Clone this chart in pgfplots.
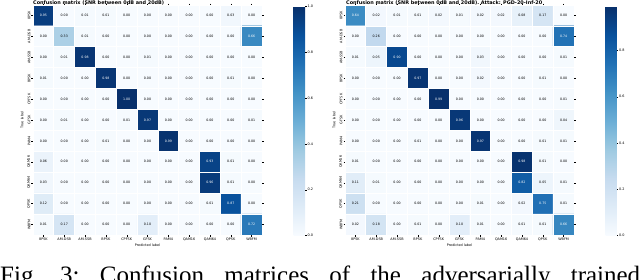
\documentclass[border=0pt]{standalone}
\usepackage{graphicx}
\usepackage{fontspec}
\setmainfont{DejaVu Sans}
\newfontfamily\capfont{Liberation Serif}
\usepackage{pgfplots}
\pgfplotsset{compat=1.18}
\usepackage{pgfplotstable}
\pgfplotsset{/pgf/number format/assume math mode=true}
\newcommand\ticf{\fontsize{3.4bp}{4bp}\selectfont}
\newcommand\celf{\fontsize{3.2bp}{4bp}\selectfont}

\pgfplotstableread[row sep=\\]{
x y c\\
0 0 0.95\\ 1 0 0.00\\ 2 0 0.01\\ 3 0 0.01\\ 4 0 0.00\\ 5 0 0.00\\ 6 0 0.00\\ 7 0 0.00\\ 8 0 0.00\\ 9 0 0.03\\ 10 0 0.00\\
0 1 0.00\\ 1 1 0.33\\ 2 1 0.01\\ 3 1 0.00\\ 4 1 0.00\\ 5 1 0.00\\ 6 1 0.00\\ 7 1 0.00\\ 8 1 0.00\\ 9 1 0.00\\ 10 1 0.66\\
0 2 0.00\\ 1 2 0.01\\ 2 2 0.98\\ 3 2 0.00\\ 4 2 0.00\\ 5 2 0.01\\ 6 2 0.00\\ 7 2 0.00\\ 8 2 0.00\\ 9 2 0.00\\ 10 2 0.00\\
0 3 0.01\\ 1 3 0.00\\ 2 3 0.00\\ 3 3 0.98\\ 4 3 0.00\\ 5 3 0.00\\ 6 3 0.00\\ 7 3 0.00\\ 8 3 0.00\\ 9 3 0.01\\ 10 3 0.00\\
0 4 0.00\\ 1 4 0.00\\ 2 4 0.00\\ 3 4 0.00\\ 4 4 1.00\\ 5 4 0.00\\ 6 4 0.00\\ 7 4 0.00\\ 8 4 0.00\\ 9 4 0.00\\ 10 4 0.00\\
0 5 0.00\\ 1 5 0.01\\ 2 5 0.00\\ 3 5 0.00\\ 4 5 0.01\\ 5 5 0.97\\ 6 5 0.00\\ 7 5 0.00\\ 8 5 0.00\\ 9 5 0.00\\ 10 5 0.01\\
0 6 0.00\\ 1 6 0.00\\ 2 6 0.00\\ 3 6 0.01\\ 4 6 0.00\\ 5 6 0.00\\ 6 6 0.99\\ 7 6 0.00\\ 8 6 0.00\\ 9 6 0.00\\ 10 6 0.00\\
0 7 0.06\\ 1 7 0.00\\ 2 7 0.00\\ 3 7 0.00\\ 4 7 0.00\\ 5 7 0.00\\ 6 7 0.00\\ 7 7 0.00\\ 8 7 0.93\\ 9 7 0.01\\ 10 7 0.00\\
0 8 0.03\\ 1 8 0.00\\ 2 8 0.00\\ 3 8 0.00\\ 4 8 0.00\\ 5 8 0.00\\ 6 8 0.00\\ 7 8 0.00\\ 8 8 0.96\\ 9 8 0.01\\ 10 8 0.00\\
0 9 0.12\\ 1 9 0.00\\ 2 9 0.00\\ 3 9 0.00\\ 4 9 0.00\\ 5 9 0.00\\ 6 9 0.00\\ 7 9 0.00\\ 8 9 0.01\\ 9 9 0.87\\ 10 9 0.00\\
0 10 0.01\\ 1 10 0.17\\ 2 10 0.00\\ 3 10 0.00\\ 4 10 0.00\\ 5 10 0.10\\ 6 10 0.00\\ 7 10 0.00\\ 8 10 0.00\\ 9 10 0.00\\ 10 10 0.72\\
}\leftdata

\pgfplotstableread[row sep=\\]{
x y c\\
0 0 0.64\\ 1 0 0.02\\ 2 0 0.01\\ 3 0 0.01\\ 4 0 0.02\\ 5 0 0.01\\ 6 0 0.02\\ 7 0 0.02\\ 8 0 0.08\\ 9 0 0.17\\ 10 0 0.00\\
0 1 0.00\\ 1 1 0.26\\ 2 1 0.00\\ 3 1 0.00\\ 4 1 0.00\\ 5 1 0.00\\ 6 1 0.00\\ 7 1 0.00\\ 8 1 0.00\\ 9 1 0.00\\ 10 1 0.74\\
0 2 0.01\\ 1 2 0.05\\ 2 2 0.90\\ 3 2 0.00\\ 4 2 0.00\\ 5 2 0.00\\ 6 2 0.03\\ 7 2 0.00\\ 8 2 0.00\\ 9 2 0.00\\ 10 2 0.01\\
0 3 0.00\\ 1 3 0.00\\ 2 3 0.00\\ 3 3 0.97\\ 4 3 0.00\\ 5 3 0.00\\ 6 3 0.02\\ 7 3 0.00\\ 8 3 0.00\\ 9 3 0.01\\ 10 3 0.00\\
0 4 0.00\\ 1 4 0.00\\ 2 4 0.00\\ 3 4 0.00\\ 4 4 0.99\\ 5 4 0.00\\ 6 4 0.00\\ 7 4 0.00\\ 8 4 0.00\\ 9 4 0.00\\ 10 4 0.01\\
0 5 0.00\\ 1 5 0.00\\ 2 5 0.00\\ 3 5 0.00\\ 4 5 0.00\\ 5 5 0.96\\ 6 5 0.00\\ 7 5 0.00\\ 8 5 0.00\\ 9 5 0.00\\ 10 5 0.04\\
0 6 0.00\\ 1 6 0.00\\ 2 6 0.00\\ 3 6 0.01\\ 4 6 0.00\\ 5 6 0.00\\ 6 6 0.97\\ 7 6 0.00\\ 8 6 0.00\\ 9 6 0.01\\ 10 6 0.01\\
0 7 0.01\\ 1 7 0.00\\ 2 7 0.00\\ 3 7 0.00\\ 4 7 0.00\\ 5 7 0.00\\ 6 7 0.00\\ 7 7 0.00\\ 8 7 0.98\\ 9 7 0.01\\ 10 7 0.00\\
0 8 0.11\\ 1 8 0.01\\ 2 8 0.00\\ 3 8 0.00\\ 4 8 0.00\\ 5 8 0.00\\ 6 8 0.00\\ 7 8 0.00\\ 8 8 0.82\\ 9 8 0.05\\ 10 8 0.01\\
0 9 0.21\\ 1 9 0.00\\ 2 9 0.00\\ 3 9 0.00\\ 4 9 0.00\\ 5 9 0.00\\ 6 9 0.01\\ 7 9 0.00\\ 8 9 0.02\\ 9 9 0.75\\ 10 9 0.01\\
0 10 0.02\\ 1 10 0.18\\ 2 10 0.00\\ 3 10 0.01\\ 4 10 0.00\\ 5 10 0.10\\ 6 10 0.01\\ 7 10 0.00\\ 8 10 0.01\\ 9 10 0.01\\ 10 10 0.66\\
}\rightdata

\pgfplotsset{
  colormap={sbblues}{rgb255=(247,251,255) rgb255=(222,235,247) rgb255=(198,219,239) rgb255=(158,202,225) rgb255=(107,174,214) rgb255=(66,146,198) rgb255=(33,113,181) rgb255=(8,81,156) rgb255=(8,48,107)},
  cmaxis/.style={
    anchor=south west, scale only axis, width=229bp, height=230bp,
    xmin=-0.5, xmax=10.5, ymin=-0.5, ymax=10.5, y dir=reverse,
    enlargelimits=false, axis on top,
    axis line style={draw=none},
    xtick={0,...,10}, ytick={0,...,10},
    xticklabels={8PSK,AM-DSB,AM-SSB,BPSK,CPFSK,GFSK,PAM4,QAM16,QAM64,QPSK,WBFM},
    yticklabels={8PSK,AM-DSB,AM-SSB,BPSK,CPFSK,GFSK,PAM4,QAM16,QAM64,QPSK,WBFM},
    tick align=outside,
    major tick length=1.5bp, tick style={black, line width=0.3bp},
    minor xtick={-0.5,0.5,...,10.5}, minor ytick={-0.5,0.5,...,10.5},
    minor tick length=0pt, xminorgrids=true, yminorgrids=true,
    minor grid style={white, line width=0.7bp},
    xticklabel style={font=\ticf, inner sep=0pt, anchor=north, yshift=-1bp},
    yticklabel style={font=\ticf, inner sep=0pt, anchor=south, xshift=-1bp, rotate=90},
    xlabel={Predicted label}, ylabel={True label},
    every axis x label/.style={at={(axis description cs:0.5,0)}, anchor=center, yshift=-10bp, font=\ticf},
    every axis y label/.style={at={(axis description cs:0,0.5)}, anchor=center, xshift=-11bp, rotate=90, font=\ticf},
    colormap name=sbblues, point meta min=0,
    colorbar,
    colorbar style={at={(parent axis.north east)}, anchor=north west, xshift=23bp, yshift=-1.5bp,
      scale only axis, width=11.5bp, height=229bp, axis line style={draw=none},
      ytick pos=right, tick align=outside, major tick length=1.5bp,
      tick style={black, line width=0.3bp},
      yticklabel style={font=\ticf, inner sep=0pt, xshift=1bp,
        /pgf/number format/.cd, fixed, fixed zerofill, precision=1}},
  },
  cmtext/.style={only marks, mark=none, point meta=explicit,
    nodes near coords={\pgfmathprintnumber[fixed,fixed zerofill,precision=2]{\pgfplotspointmeta}},
    nodes near coords align=center,
    every node near coord/.append style={font=\celf, inner sep=0pt, anchor=center, text=#1}},
}

\begin{document}
\begin{tikzpicture}
\useasboundingbox (0,0) rectangle (640bp,280bp);
\clip (0,0) rectangle (640bp,280bp);

\begin{axis}[cmaxis, at={(33bp,45bp)}, point meta max=1,
  colorbar style={ytick={0,0.2,0.4,0.6,0.8,1.0}}]
  \addplot[matrix plot*, mesh/cols=11, mesh/rows=11, point meta=explicit]
    table[x=x, y=y, meta=c] {\leftdata};
  \addplot[cmtext=black, restrict expr to domain={\thisrow{c}}{-1:0.45}]
    table[x=x, y=y, meta=c] {\leftdata};
  \addplot[cmtext=white, restrict expr to domain={\thisrow{c}}{0.45:2}]
    table[x=x, y=y, meta=c] {\leftdata};
\end{axis}

\begin{axis}[cmaxis, at={(345bp,45bp)}, point meta max=0.99,
  colorbar style={width=11bp, ytick={0,0.2,0.4,0.6,0.8}}]
  \addplot[matrix plot*, mesh/cols=11, mesh/rows=11, point meta=explicit]
    table[x=x, y=y, meta=c] {\rightdata};
  \addplot[cmtext=black, restrict expr to domain={\thisrow{c}}{-1:0.45}]
    table[x=x, y=y, meta=c] {\rightdata};
  \addplot[cmtext=white, restrict expr to domain={\thisrow{c}}{0.45:2}]
    table[x=x, y=y, meta=c] {\rightdata};
\end{axis}

\node[anchor=south west, inner sep=0pt] at (33bp,274.5bp)
  {\resizebox{131bp}{!}{\bfseries Confusion matrix (SNR between 0dB and 20dB)}};
\node[anchor=south west, inner sep=0pt] at (346bp,274.5bp)
  {\resizebox{196bp}{!}{\bfseries Confusion matrix (SNR between 0dB and 20dB). Attack: PGD-20-Inf-20}};

\begin{scope}[every node/.style={anchor=base west, inner sep=0pt, font=\capfont\fontsize{25bp}{30bp}\selectfont}]
\node at (0bp,-3.5bp) {Fig.};
\node at (60bp,-3.5bp) {3:};
\node at (99.7bp,-3.5bp) {Confusion};
\node at (224.2bp,-3.5bp) {matrices};
\node at (329.2bp,-3.5bp) {of};
\node at (370.3bp,-3.5bp) {the};
\node at (421.2bp,-3.5bp) {adversarially};
\node at (570.6bp,-3.5bp) {trained};
\end{scope}
\end{tikzpicture}
\end{document}
